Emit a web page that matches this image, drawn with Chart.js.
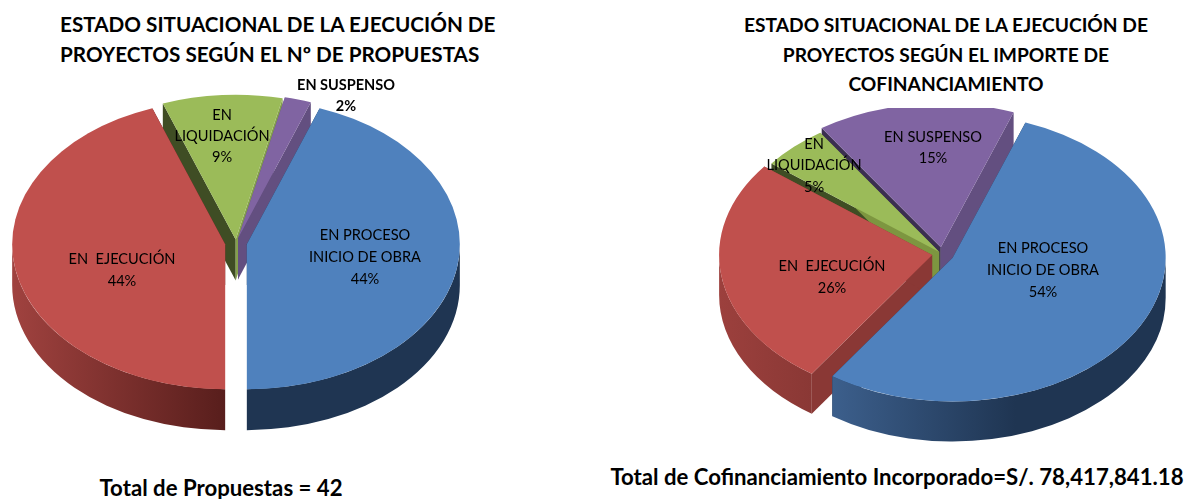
<!DOCTYPE html>
<html>
<head>
<meta charset="utf-8">
<script src="https://cdn.jsdelivr.net/npm/chart.js@4"></script>
<style>
  body { margin: 0; background: #fff; width: 1187px; height: 499px; overflow: hidden; position: relative; }
  canvas { position: absolute; }
  .txt { position: absolute; font: bold 19.2px Lato, sans-serif; color: #000; text-align: center; white-space: nowrap; line-height: 29.5px; }
  .mid { transform: translateX(-50%); }
  .foot { font-size: 22.2px; }
</style>
</head>
<body>
<div class="txt" id="titleLeft" style="left:60px;top:10px;text-align:left;font-size:20.7px"></div>
<div class="txt mid" id="titleRight" style="left:946px;top:10px"></div>
<div class="txt mid foot" id="footLeft" style="left:221px;top:473px"></div>
<div class="txt mid foot" id="footRight" style="left:897px;top:462px"></div>
<canvas id="pieLeft" width="472" height="499" style="left:0;top:0"></canvas>
<canvas id="pieRight" width="484" height="391" style="left:700px;top:108px"></canvas>
<script>
const categories = [['EN PROCESO', 'INICIO DE OBRA'], ['EN  EJECUCIÓN'], ['EN', 'LIQUIDACIÓN'], ['EN SUSPENSO']];
const propuestasPct = [44, 44, 9, 2];
const importePct = [54, 26, 5, 15];
const titleLeft = ['ESTADO SITUACIONAL DE LA EJECUCIÓN DE', 'PROYECTOS SEGÚN EL Nº DE PROPUESTAS'];
const titleRight = ['ESTADO SITUACIONAL DE LA EJECUCIÓN DE', 'PROYECTOS SEGÚN EL IMPORTE DE', 'COFINANCIAMIENTO'];
const footLeft = 'Total de Propuestas = 42';
const footRight = 'Total de Cofinanciamiento Incorporado=S/. 78,417,841.18';

const faceColors = ['#4f81bd', '#c0504d', '#9bbb59', '#8064a2'];

document.getElementById('titleLeft').innerHTML = titleLeft.join('<br>');
document.getElementById('titleRight').innerHTML = titleRight.join('<br>');
document.getElementById('footLeft').textContent = footLeft;
document.getElementById('footRight').textContent = footRight;

// Chart.js has no 3D pie: squash the arcs and draw the walls under them
const pie3d = {
  id: 'pie3d',
  beforeDatasetDraw(chart, args, opts) {
    const ctx = chart.ctx;
    const arcs = chart.getDatasetMeta(0).data;
    const squash = opts.squash;
    const dz = opts.depth / squash;

    ctx.save();
    ctx.translate(0, opts.centerY);
    ctx.scale(1, squash);
    ctx.translate(0, -arcs[0].y);

    const order = arcs.map((a, i) => i).sort((a, b) => {
      return Math.sin(mid(arcs[a])) - Math.sin(mid(arcs[b]));
    });

    order.forEach(i => {
      const arc = arcs[i];
      const m = mid(arc);
      const x = arc.x + Math.cos(m) * opts.explode[i];
      const y = arc.y + Math.sin(m) * opts.explode[i];
      const r = arc.outerRadius;

      [[arc.startAngle, opts.startWall[i]], [arc.endAngle, opts.endWall[i]]].forEach(([a, color]) => {
        ctx.fillStyle = color;
        ctx.beginPath();
        ctx.moveTo(x, y);
        ctx.lineTo(x + Math.cos(a) * r, y + Math.sin(a) * r);
        ctx.lineTo(x + Math.cos(a) * r, y + Math.sin(a) * r + dz);
        ctx.lineTo(x, y + dz);
        ctx.closePath();
        ctx.fill();
      });

      // only the front half of the rim can be seen
      for (let k = -1; k < 3; k++) {
        const lo = Math.max(arc.startAngle, k * 2 * Math.PI);
        const hi = Math.min(arc.endAngle, k * 2 * Math.PI + Math.PI);
        if (hi <= lo) continue;
        const xs = [x + Math.cos(lo) * r, x + Math.cos(hi) * r];
        const g = ctx.createLinearGradient(Math.min(...xs), 0, Math.max(...xs), 0);
        g.addColorStop(0, opts.rim[i][0]);
        g.addColorStop(opts.rim[i][2], opts.rim[i][1]);
        g.addColorStop(1, opts.rim[i][1]);
        ctx.fillStyle = g;
        ctx.beginPath();
        ctx.arc(x, y, r, lo, hi);
        ctx.arc(x, y + dz, r, hi, lo, true);
        ctx.closePath();
        ctx.fill();
      }
    });

    arcs.forEach((arc, i) => {
      const m = mid(arc);
      ctx.save();
      ctx.translate(Math.cos(m) * opts.explode[i], Math.sin(m) * opts.explode[i]);
      arc.draw(ctx, chart.chartArea);
      ctx.restore();
    });
    ctx.restore();
    return false;
  },
  afterDatasetsDraw(chart, args, opts) {
    const ctx = chart.ctx;
    const values = chart.data.datasets[0].data;
    ctx.save();
    ctx.fillStyle = '#000';
    ctx.textAlign = 'center';
    ctx.textBaseline = 'middle';
    values.forEach((v, i) => {
      const lines = chart.data.labels[i].concat(v + '%');
      ctx.font = opts.labelFonts[i];
      lines.forEach((line, n) => {
        ctx.fillText(line, opts.labelAt[i][0], opts.labelAt[i][1] + n * opts.labelStep[i]);
      });
    });
    ctx.restore();
  }
};

function mid(arc) {
  return (arc.startAngle + arc.endAngle) / 2;
}

function makePie(id, values, rotation, style) {
  return new Chart(document.getElementById(id), {
    type: 'pie',
    data: {
      labels: categories,
      datasets: [{ data: values, backgroundColor: faceColors, borderWidth: 0 }]
    },
    options: {
      responsive: false,
      animation: false,
      rotation: rotation,
      radius: 213,
      layout: { padding: 0 },
      plugins: { legend: { display: false }, tooltip: { enabled: false }, pie3d: style }
    },
    plugins: [pie3d]
  });
}

makePie('pieLeft', propuestasPct, 20, {
  squash: 0.68,
  depth: 41,
  centerY: 243,
  explode: [11, 11, 5, 7],
  startWall: ['#1f3552', '#8a3835', '#3f4d24', '#5e4a7a'],
  endWall: ['#1f3552', '#5a1e1c', '#84a04b', '#634f80'],
  rim: [['#1f3552', '#1f3552', 0.5], ['#a0423f', '#581e1c', 1], ['#3f4d24', '#3f4d24', 1], ['#634f80', '#634f80', 1]],
  labelFonts: ['14.6px Lato', '14.6px Lato', '14.6px Lato', 'bold 14.5px Lato'],
  labelStep: [22, 22, 21, 21],
  labelAt: [[365, 235], [122, 259], [222, 115], [346, 85]]
});

makePie('pieRight', importePct, 20, {
  squash: 0.675,
  depth: 40,
  centerY: 146,
  explode: [12, 10, 4, 10],
  startWall: ['#1f3552', '#8a3835', '#3f4d24', '#3b2f50'],
  endWall: ['#1f3552', '#8a3835', '#7d9640', '#634f80'],
  rim: [['#3c5f8c', '#1f3552', 0.55], ['#9c403d', '#8a3835', 1], ['#3f4d24', '#3f4d24', 1], ['#634f80', '#634f80', 1]],
  labelFonts: ['14.6px Lato', '14.6px Lato', '14.6px Lato', '14.6px Lato'],
  labelStep: [22, 22, 21.5, 21],
  labelAt: [[343, 140], [132, 158], [114, 36], [233, 29]]
});
</script>
</body>
</html>
